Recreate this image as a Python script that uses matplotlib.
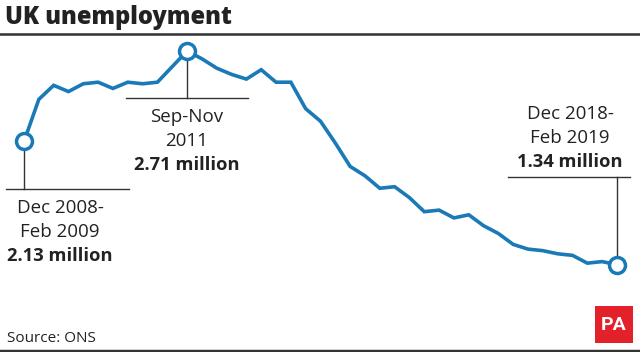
import matplotlib
matplotlib.use("Agg")
import matplotlib.pyplot as plt
from matplotlib.lines import Line2D
from matplotlib.patches import Rectangle

# quarterly unemployment, millions (Dec 2008-Feb 2009 ... Dec 2018-Feb 2019)
unemployed = [2.13, 2.40, 2.49, 2.45, 2.50, 2.51, 2.47, 2.51, 2.50, 2.51,
              2.61, 2.71, 2.66, 2.60, 2.56, 2.53, 2.59, 2.51, 2.51, 2.34,
              2.26, 2.12, 1.97, 1.91, 1.83, 1.84, 1.77, 1.68, 1.69, 1.64,
              1.66, 1.59, 1.54, 1.47, 1.44, 1.43, 1.41, 1.40, 1.35, 1.36,
              1.34]
periods = list(range(len(unemployed)))

# highlighted points: index, label lines, value text
highlights = [
    (0, ["Dec 2008-", "Feb 2009"], "2.13 million"),
    (11, ["Sep-Nov", "2011"], "2.71 million"),
    (40, ["Dec 2018-", "Feb 2019"], "1.34 million"),
]

W, H = 640, 352
BLUE = "#1a7ab8"
DARK = "#333333"
plt.rcParams["font.family"] = ["Open Sans", "DejaVu Sans"]

fig = plt.figure(figsize=(W / 100, H / 100), dpi=100)
ax = fig.add_axes([0, 0, 1, 1])
ax.set_axis_off()

# map data to the same place as the reference
step = 14.825
ax.set_xlim(-24 / step, (W - 24) / step)
ax.set_ylim(2.71 - (H - 51) / 156, 2.71 + 51 / 156)

ax.plot(periods, unemployed, color=BLUE, lw=2.6, solid_joinstyle="miter", zorder=3)


def fx(x):
    return x / W


def fy(y):
    return 1 - y / H


def to_data_y(ypix):
    return ax.transData.inverted().transform((0, H - ypix))[1]


def hline(x0, x1, y, lw=1.0, color=DARK):
    fig.add_artist(Line2D([fx(x0), fx(x1)], [fy(y), fy(y)], color=color, lw=lw))


# title and rules
fig.text(fx(5), fy(17), "UK unemployment", fontsize=17, fontweight=800,
         color="#222222", va="center", ha="left")
hline(0, W, 34, lw=1.8)
hline(0, W, 350.5, lw=2.5)
fig.text(fx(7), fy(338), "Source: ONS", fontsize=11, color="#222222",
         va="center", ha="left")

# PA logo
fig.add_artist(Rectangle((fx(595), fy(343)), (633 - 595) / W, (343 - 306) / H,
                         transform=fig.transFigure, color="#e3212b", lw=0))
fig.text(fx(614), fy(325), "PA", fontsize=14, fontweight="bold", color="white",
         ha="center", va="center", family="Roboto", stretch="condensed")

# annotation layout (pixels): bar y, bar x0, x1, text centre x, text ys
layout = [
    (189, 6, 129, 60, [208, 232, 256]),
    (98, 126, 248, 187, [117, 141, 165]),
    (177, 508, 630, 570, [114, 138, 162]),
]

for (i, lines, value), (by, bx0, bx1, tx, tys) in zip(highlights, layout):
    ax.plot([periods[i], periods[i]], [unemployed[i], to_data_y(by)],
            color=DARK, lw=1.0, zorder=1)
    hline(bx0, bx1, by)
    ax.plot(periods[i], unemployed[i], "o", ms=11.5, mfc="white", mec=BLUE,
            mew=2.5, zorder=4)
    for txt, ty in zip(lines, tys[:2]):
        fig.text(fx(tx), fy(ty), txt, fontsize=13.5, color="#222222",
                 ha="center", va="center")
    fig.text(fx(tx), fy(tys[2]), value, fontsize=13.2, fontweight="bold",
             color="#222222", ha="center", va="center")

fig.savefig("out.png", dpi=100)
